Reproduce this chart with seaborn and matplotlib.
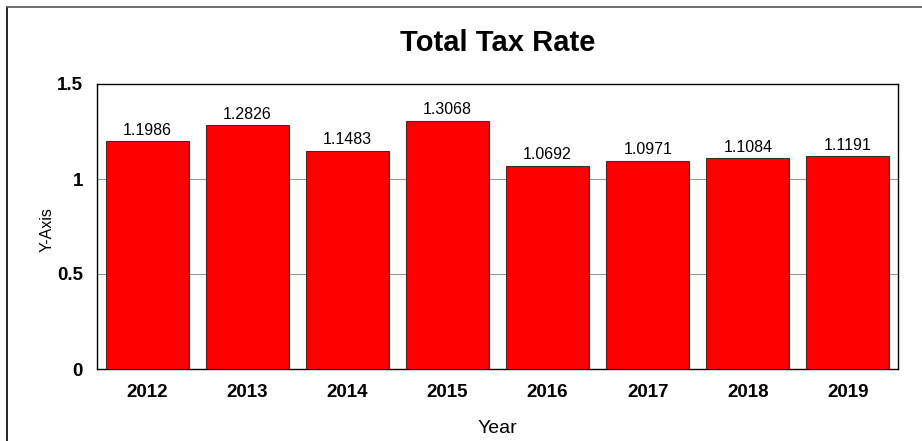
import matplotlib
matplotlib.use("Agg")
import matplotlib.pyplot as plt
import seaborn as sns
import pandas as pd
from matplotlib.lines import Line2D

years = ["2012", "2013", "2014", "2015", "2016", "2017", "2018", "2019"]
rates = [1.1986, 1.2826, 1.1483, 1.3068, 1.0692, 1.0971, 1.1084, 1.1191]
yticks = [0, 0.5, 1, 1.5]
ytick_labels = ["0", "0.5", "1", "1.5"]

sns.set_theme(style="white")
plt.rcParams['font.family'] = ['Liberation Sans', 'DejaVu Sans']
plt.rcParams['text.color'] = 'black'
plt.rcParams['axes.labelcolor'] = 'black'
plt.rcParams['xtick.color'] = 'black'
plt.rcParams['ytick.color'] = 'black'

df = pd.DataFrame({"Year": years, "Rate": rates})

W, H = 922, 441
fig = plt.figure(figsize=(W / 100, H / 100), dpi=100)
left, right, top, bottom = 97, 898, 84, 369
aw, ah = right - left, bottom - top
ax = fig.add_axes([left / W, 1 - bottom / H, aw / W, ah / H])

sns.barplot(data=df, x="Year", y="Rate", color="#ff0000", saturation=1,
            width=0.83, edgecolor="#333333", linewidth=0.8, ax=ax, zorder=3)

ax.set_ylim(0, 1.5)
ax.set_xlim(-0.5, len(years) - 0.5)
ax.set_yticks(yticks)
ax.set_yticklabels(ytick_labels)
for y in [0.5, 1.0]:
    ax.axhline(y, color="#999999", linewidth=0.8, zorder=1)

for i, v in enumerate(rates):
    ax.annotate(f"{v:.4f}", (i, v), xytext=(0, 2.5), textcoords="offset points",
                ha="center", va="bottom", fontsize=11.5, color="black", zorder=4)

ax.tick_params(axis="x", length=0, labelsize=13.5, pad=11)
ax.tick_params(axis="y", length=0, labelsize=13.5, pad=10)
for lab in ax.get_xticklabels() + ax.get_yticklabels():
    lab.set_fontweight("bold")
ax.set_xlabel("Year", fontsize=14)
ax.set_ylabel("Y-Axis", fontsize=11.5)
ax.xaxis.label.set_va("baseline")
ax.xaxis.set_label_coords(0.5, (bottom - 433) / ah)
ax.yaxis.label.set_va("center")
ax.yaxis.set_label_coords((47 - left) / aw, (bottom - 230) / ah)
for s in ax.spines.values():
    s.set_color("black")
    s.set_linewidth(1.0)

fig.text((left + right) / 2 / W, 1 - 51 / H, "Total Tax Rate", ha="center", va="baseline",
         fontsize=21, fontweight="bold")

fig.add_artist(Line2D([7 / W, 7 / W], [0, 1 - 7 / H], transform=fig.transFigure,
                      color="black", linewidth=1.2))
fig.add_artist(Line2D([7 / W, 1], [1 - 7 / H, 1 - 7 / H], transform=fig.transFigure,
                      color="#555555", linewidth=1.2))

fig.savefig("out.png", dpi=100)
